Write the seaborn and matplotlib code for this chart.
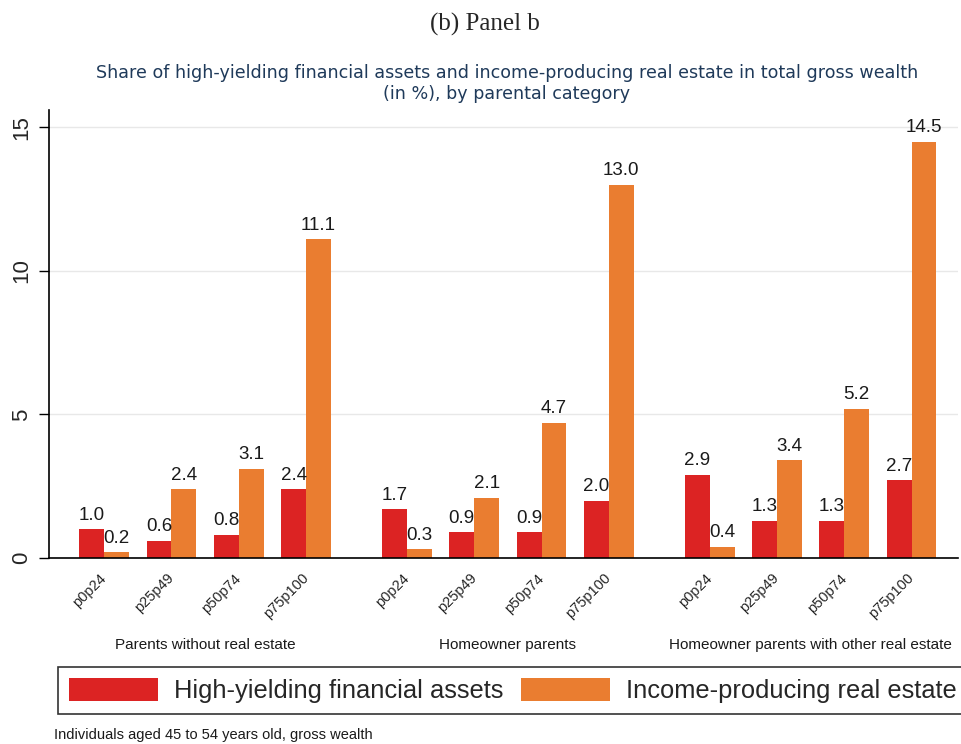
import matplotlib
matplotlib.use("Agg")
import matplotlib.pyplot as plt
import matplotlib.transforms as mtransforms
from matplotlib.patches import Patch
import seaborn as sns
import pandas as pd

# ---- data ----
groups = ["Parents without real estate", "Homeowner parents",
          "Homeowner parents with other real estate"]
percentiles = ["p0p24", "p25p49", "p50p74", "p75p100"]
series = ["High-yielding financial assets", "Income-producing real estate"]
financial = [1.0, 0.6, 0.8, 2.4, 1.7, 0.9, 0.9, 2.0, 2.9, 1.3, 1.3, 2.7]
real_estate = [0.2, 2.4, 3.1, 11.1, 0.3, 2.1, 4.7, 13.0, 0.4, 3.4, 5.2, 14.5]
colors = ["#dc2323", "#ea7d30"]

# ---- layout positions (group gap) ----
group_step = 4.5
rows = []
pos = []
for g in range(len(groups)):
    for i, p in enumerate(percentiles):
        k = g * len(percentiles) + i
        x = g * group_step + i
        pos.append(x)
        rows.append({"x": x, "series": series[0], "value": financial[k]})
        rows.append({"x": x, "series": series[1], "value": real_estate[k]})
df = pd.DataFrame(rows)

sns.set_style("white")
plt.rcParams["font.family"] = ["Liberation Sans", "DejaVu Sans"]

fig = plt.figure(figsize=(9.61, 7.44), dpi=100)
W, H = 961, 744
ax_left, ax_right, ax_top, ax_bot = 49, 958, 110, 558
ax = fig.add_axes([ax_left / W, 1 - ax_bot / H,
                   (ax_right - ax_left) / W, (ax_bot - ax_top) / H])

sns.barplot(data=df, x="x", y="value", hue="series", hue_order=series,
            palette=colors, native_scale=True, width=0.74, saturation=1,
            linewidth=0, legend=False, ax=ax)

for cont in ax.containers:
    ax.bar_label(cont, fmt="%.1f", padding=4, fontsize=13.5, color="#1a1a1a")

ax.set_xlim(-0.82, 12.69)
ax.set_ylim(0, 15.6)
ax.set_yticks([0, 5, 10, 15])
ax.set_yticklabels(["0", "5", "10", "15"], rotation=90, va="center",
                   fontsize=16)
ax.tick_params(axis="y", length=7, width=1, color="black", pad=5,
               direction="out", left=True)
ax.set_xticks(pos)
ax.set_xticklabels(percentiles * len(groups), rotation=45, ha="right",
                   va="center", rotation_mode="anchor", fontsize=10.5)
ax.tick_params(axis="x", length=0, pad=13)
ax.set_xlabel("")
ax.set_ylabel("")
ax.grid(axis="y", color="#e8e8e8", linewidth=1)
ax.set_axisbelow(True)
for s in ["top", "right"]:
    ax.spines[s].set_visible(False)
ax.spines["left"].set_color("black")
ax.spines["left"].set_linewidth(1.2)
ax.spines["bottom"].set_color("black")
ax.spines["bottom"].set_linewidth(1.2)

# group labels
trans = mtransforms.blended_transform_factory(ax.transData, fig.transFigure)
for g, name in enumerate(groups):
    cx = g * group_step + (len(percentiles) - 1) / 2
    ax.text(cx, 1 - 645 / H, name, transform=trans, ha="center",
            va="center", fontsize=11, color="#1a1a1a")

# titles
fig.text(0.505, 1 - 24 / H, "(b) Panel b", ha="center", va="center",
         fontsize=18, family=["Liberation Serif", "DejaVu Serif"])
fig.text(507 / W, 1 - 64 / H,
         "Share of high-yielding financial assets and income-producing real estate in total gross wealth\n(in %), by parental category",
         ha="center", va="top", fontsize=12.6, color="#1f3a5a",
         family=["DejaVu Sans"], linespacing=1.2)

# legend
handles = [Patch(facecolor=c, edgecolor="none") for c in colors]
leg = fig.legend(handles, series, loc="upper left",
                 bbox_to_anchor=(58 / W, 1 - 667 / H), ncol=2,
                 fontsize=18.4, frameon=True, fancybox=False,
                 edgecolor="black", borderaxespad=0, borderpad=0.42,
                 handlelength=3.48, handleheight=1.0, handletextpad=0.62,
                 columnspacing=0.7)
leg.get_frame().set_linewidth(1.2)

fig.text(54 / W, 1 - 735 / H,
         "Individuals aged 45 to 54 years old, gross wealth",
         ha="left", va="center", fontsize=10.5, color="#1a1a1a")

fig.savefig("out.png", dpi=100)
